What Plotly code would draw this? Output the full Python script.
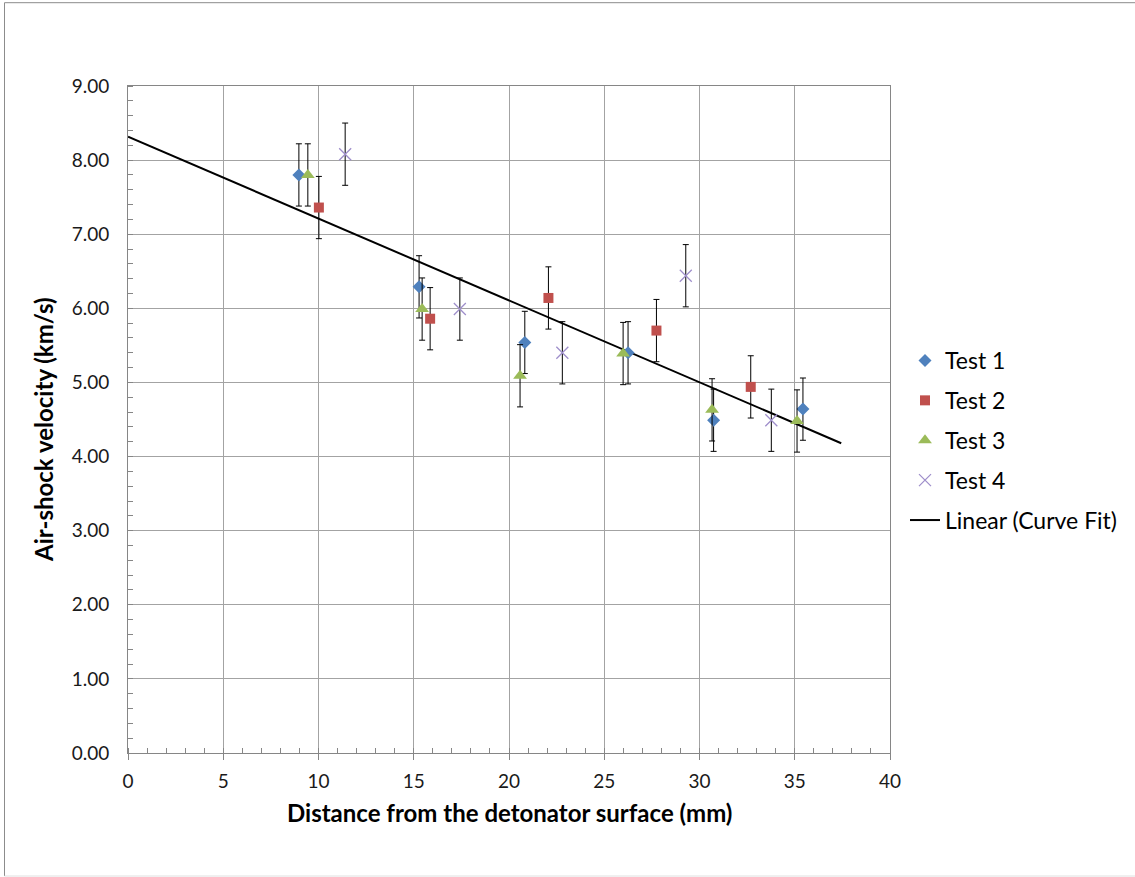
import plotly.graph_objects as go

# Measured air-shock velocities (km/s) vs. distance from detonator surface (mm)
test1_x = [8.97, 15.28, 20.83, 26.25, 30.74, 35.43]
test1_y = [7.80, 6.29, 5.54, 5.40, 4.49, 4.64]

test2_x = [10.02, 15.86, 22.07, 27.74, 32.69]
test2_y = [7.36, 5.86, 6.14, 5.70, 4.94]

test3_x = [9.44, 15.44, 20.58, 25.99, 30.66, 35.12]
test3_y = [7.80, 5.99, 5.09, 5.39, 4.63, 4.48]

test4_x = [11.40, 17.42, 22.80, 29.28, 33.77]
test4_y = [8.08, 5.99, 5.40, 6.44, 4.49]

# Symmetric uncertainty on each velocity (km/s)
velocity_error = 0.42

# Linear curve fit, end points
fit_x = [0.0, 37.44]
fit_y = [8.316, 4.18]

x_ticks = [0, 5, 10, 15, 20, 25, 30, 35, 40]
y_ticks = [0, 1, 2, 3, 4, 5, 6, 7, 8, 9]

W, H = 1135, 877
ML, MR, MT, MB = 128, 245, 86, 124
PW, PH = W - ML - MR, H - MT - MB


def px(xp):
    return (xp - ML) / PW


def py(yp):
    return (H - MB - yp) / PH


FONT = "Lato"
TXT = "#1a1a1a"
GRID = "#a3a3a3"
AXIS = "#868686"

fig = go.Figure()

fig.add_trace(go.Scatter(
    x=fit_x, y=fit_y, mode="lines", name="Linear (Curve Fit)",
    line=dict(color="black", width=2), legendrank=5, legendgroup="fit",
))


def err(n):
    return dict(type="data", array=[velocity_error] * n, symmetric=True,
                color="black", thickness=1, width=3)


fig.add_trace(go.Scatter(
    x=test1_x, y=test1_y, mode="markers", name="Test 1", legendrank=1, legendgroup="t1",
    marker=dict(symbol="diamond", size=10, color="#4F81BD"),
    error_y=err(len(test1_y)),
))
fig.add_trace(go.Scatter(
    x=test2_x, y=test2_y, mode="markers", name="Test 2", legendrank=2, legendgroup="t2",
    marker=dict(symbol="square", size=10, color="#C0504D"),
    error_y=err(len(test2_y)),
))
fig.add_trace(go.Scatter(
    x=test3_x, y=test3_y, mode="markers", name="Test 3", legendrank=3, legendgroup="t3",
    marker=dict(symbol="triangle-up", size=12, color="#9BBB59"),
    error_y=err(len(test3_y)),
))
fig.add_trace(go.Scatter(
    x=test4_x, y=test4_y, mode="markers", name="Test 4", legendrank=4, legendgroup="t4",
    marker=dict(symbol="x-thin", size=12, color="#9F8FCB",
                line=dict(color="#9F8FCB", width=1.3)),
    error_y=err(len(test4_y)),
))

fig.update_layout(
    width=W, height=H,
    margin=dict(l=ML, r=MR, t=MT, b=MB, pad=0),
    paper_bgcolor="white", plot_bgcolor="white",
    font=dict(family=FONT, size=19, color=TXT),
    showlegend=True,
    legend=dict(
        x=px(905), y=py(339), xanchor="left", yanchor="top",
        font=dict(family=FONT, size=23, color="black"),
        bgcolor="rgba(0,0,0,0)", borderwidth=0,
        traceorder="grouped", tracegroupgap=7,
    ),
    xaxis=dict(
        range=[0, 40], tickvals=x_ticks, ticktext=[str(v) for v in x_ticks],
        showgrid=True, gridcolor=GRID, gridwidth=1,
        showline=True, linecolor=AXIS, linewidth=1, mirror=True,
        ticks="outside", ticklen=6, tickcolor=AXIS, ticklabelstandoff=5,
        minor=dict(dtick=1, ticks="inside", ticklen=5, tickcolor=AXIS, showgrid=False),
        zeroline=False, tickfont=dict(size=19, color=TXT),
    ),
    yaxis=dict(
        range=[0, 9], tickvals=y_ticks, tickformat=".2f",
        showgrid=True, gridcolor=GRID, gridwidth=1,
        showline=True, linecolor=AXIS, linewidth=1, mirror=True,
        ticks="", ticklabelstandoff=14,
        minor=dict(dtick=0.2, ticks="inside", ticklen=5, tickcolor=AXIS, showgrid=False),
        zeroline=False, tickfont=dict(size=19, color=TXT),
    ),
    annotations=[
        dict(text="<b>Distance from the detonator surface (mm)</b>",
             xref="paper", yref="paper", x=px(509), y=py(812),
             xanchor="center", yanchor="middle", showarrow=False,
             font=dict(family=FONT, size=24, color="black")),
        dict(text="<b>Air-shock velocity (km/s)</b>",
             xref="paper", yref="paper", x=px(44), y=py(430),
             xanchor="center", yanchor="middle", showarrow=False, textangle=-90,
             font=dict(family=FONT, size=24, color="black")),
    ],
    shapes=[
        # chart frame
        dict(type="line", xref="paper", yref="paper", x0=px(4.5), x1=px(1140),
             y0=py(2.7), y1=py(2.7), line=dict(color="#8c8c8c", width=1)),
        dict(type="line", xref="paper", yref="paper", x0=px(4.5), x1=px(4.5),
             y0=py(2.7), y1=py(876), line=dict(color="#8c8c8c", width=1)),
        dict(type="line", xref="paper", yref="paper", x0=px(4.5), x1=px(1140),
             y0=py(876), y1=py(876), line=dict(color="#e0e0e0", width=1)),
    ],
)

fig.write_html("out.html")
